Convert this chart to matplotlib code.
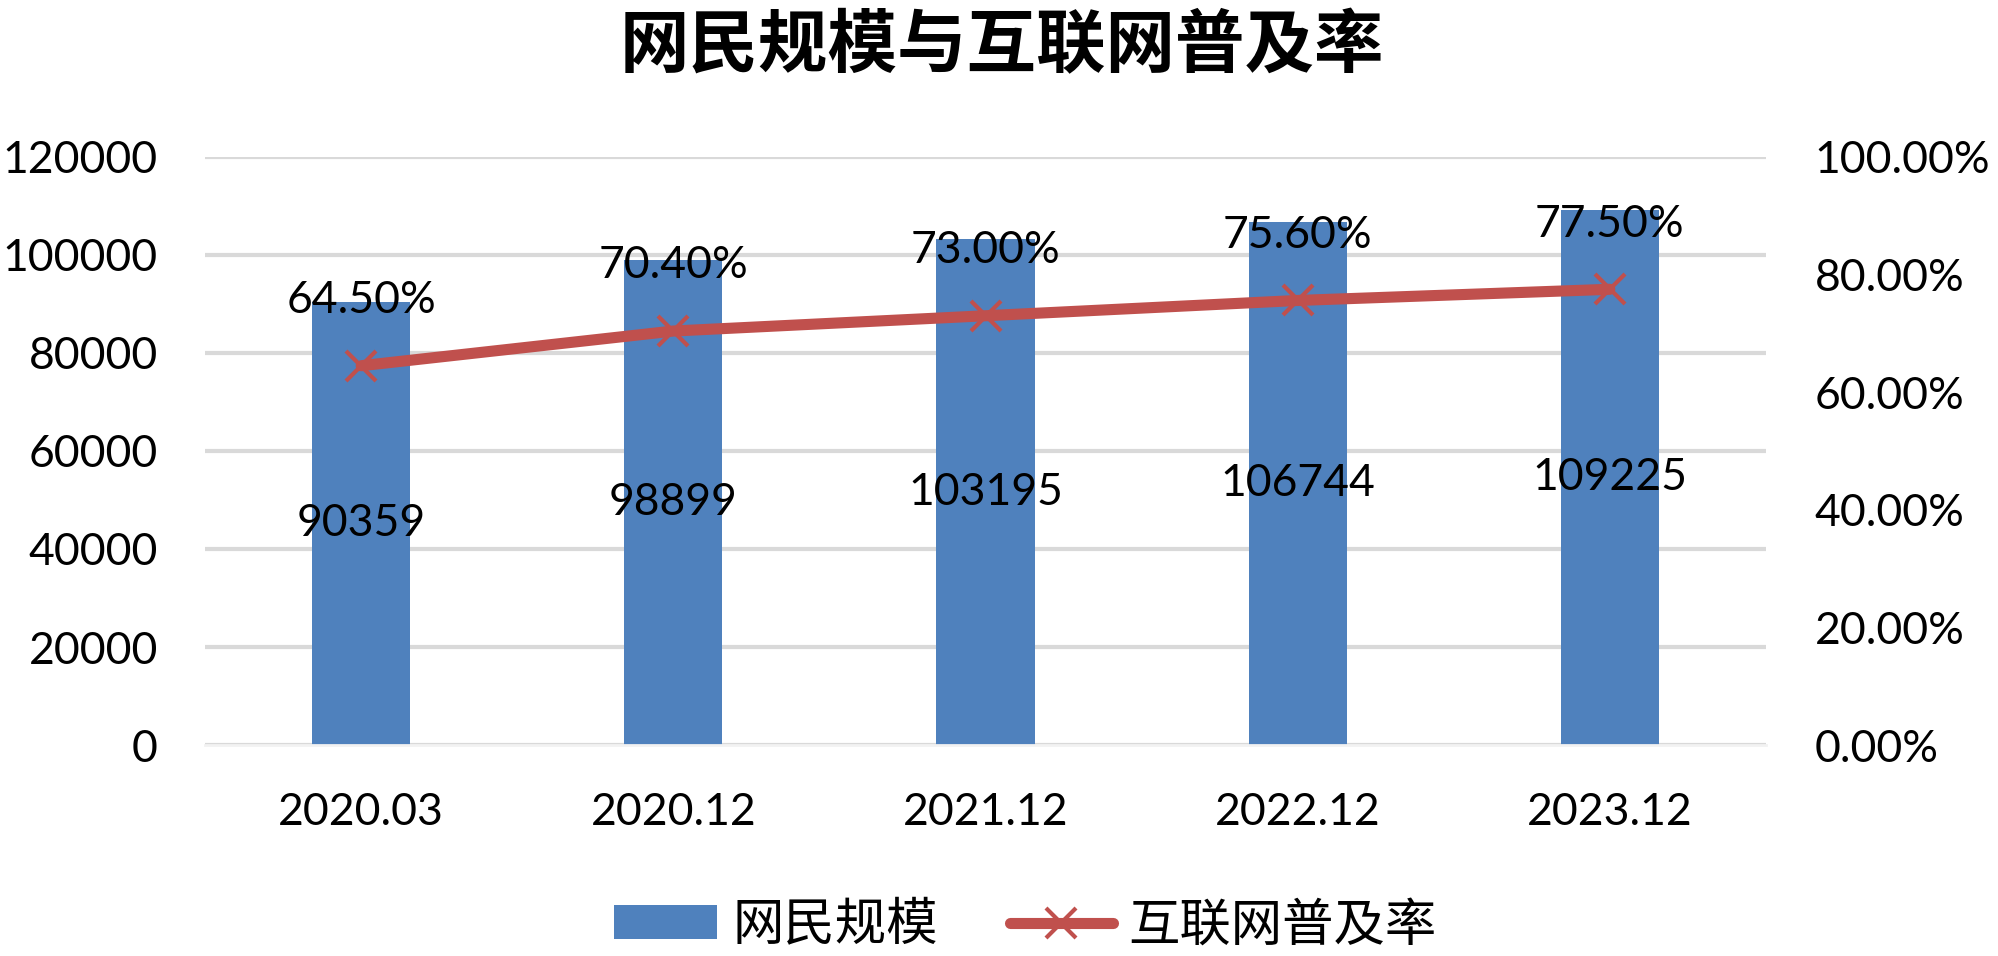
import matplotlib
matplotlib.use("Agg")
import matplotlib.pyplot as plt
from matplotlib.lines import Line2D
from matplotlib.patches import Patch
import numpy as np

categories = ["2020.03", "2020.12", "2021.12", "2022.12", "2023.12"]
users = [90359, 98899, 103195, 106744, 109225]
rate = [64.5, 70.4, 73.0, 75.6, 77.5]
left_ticks = [0, 20000, 40000, 60000, 80000, 100000, 120000]
right_ticks = [0, 20, 40, 60, 80, 100]

title = "网民规模与互联网普及率"
bar_name = "网民规模"
line_name = "互联网普及率"

BLUE = "#4F81BD"
RED = "#C0504D"
GRID = "#D9D9D9"
NUM_FONT = ["Lato", "DejaVu Sans"]
CJK_FONT = ["Noto Sans CJK SC", "DejaVu Sans"]
FS = 32

plt.rcParams['font.family'] = NUM_FONT

fig = plt.figure(figsize=(19.99, 9.56), dpi=100)
ax = fig.add_axes([0.1026, 0.2207, 0.7808, 0.6151])
ax2 = ax.twinx()

x = np.arange(len(categories))
ax.bar(x, users, width=0.314, color=BLUE, zorder=2)
ax.set_ylim(0, 120000)
ax.set_xlim(-0.5, len(categories) - 0.5)
ax.set_yticks(left_ticks)
ax.set_yticklabels([str(t) for t in left_ticks])
ax.set_xticks(x)
ax.set_xticklabels(categories)
ax.grid(axis='y', color=GRID, linewidth=3, zorder=0)
ax.set_axisbelow(True)
for s in ["top", "right", "left"]:
    ax.spines[s].set_visible(False)
ax.spines["bottom"].set_color("#F2F2F2")
ax.spines["bottom"].set_linewidth(2)
ax.tick_params(axis='both', length=0, labelsize=FS)
ax.tick_params(axis='y', pad=34)
ax.tick_params(axis='x', pad=34)

for xi, v in zip(x, users):
    ax.text(xi, v / 2, str(v), ha='center', va='center', fontsize=FS, zorder=5)

ax2.plot(x, rate, color=RED, linewidth=8, marker='x', markersize=21,
         markeredgewidth=3, solid_capstyle='round', zorder=4)
ax2.set_ylim(0, 100)
ax2.set_yticks(right_ticks)
ax2.set_yticklabels([f"{t:.2f}%" for t in right_ticks])
ax2.tick_params(axis='y', length=0, labelsize=FS, pad=35)
for s in ["top", "right", "left", "bottom"]:
    ax2.spines[s].set_visible(False)
for xi, v in zip(x, rate):
    ax2.annotate(f"{v:.2f}%", (xi, v), xytext=(0, 47), textcoords='offset points',
                 ha='center', va='center', fontsize=FS, zorder=6)

fig.text(0.501, 0.951, title, ha='center', va='center', fontsize=50,
         fontweight='bold', family=CJK_FONT)

handles = [Patch(facecolor=BLUE, edgecolor='none'),
           Line2D([0], [0], color=RED, linewidth=8, marker='x', markersize=21,
                  markeredgewidth=3, solid_capstyle='round')]
leg = fig.legend(handles, [bar_name, line_name], loc='center',
                 bbox_to_anchor=(0.513, 0.032), ncol=2, frameon=False,
                 prop={'family': CJK_FONT, 'size': 37}, handlelength=2.0,
                 handleheight=0.65, columnspacing=1.4, handletextpad=0.3)

fig.savefig("out.png", dpi=100)
